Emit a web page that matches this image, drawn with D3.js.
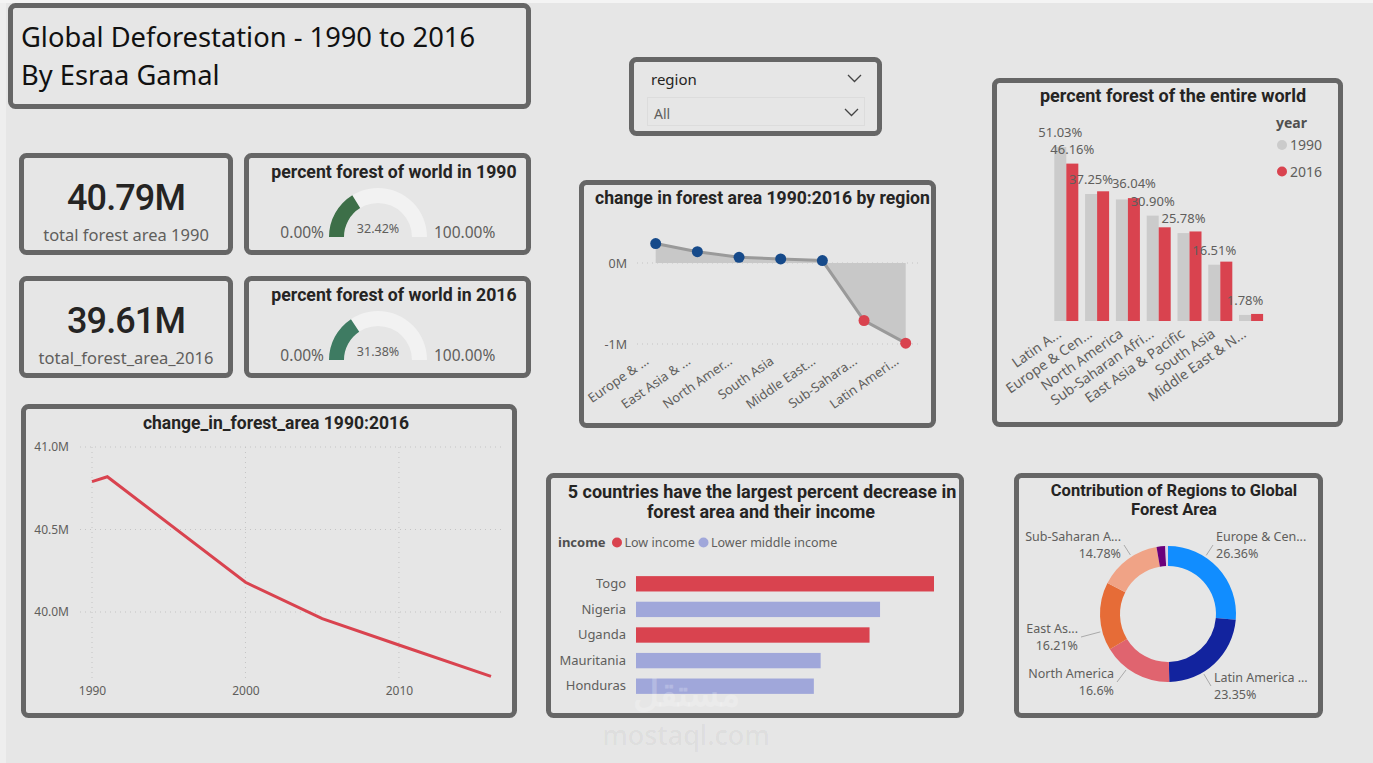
<!DOCTYPE html>
<html>
<head>
<meta charset="utf-8">
<script src="https://cdn.jsdelivr.net/npm/d3@7"></script>
<style>
  body { margin: 0; background: #e6e6e6; }
  svg { display: block; }
  text { font-family: "Noto Sans", sans-serif; }
  .ttl { font-family: Roboto, sans-serif; font-weight: 700; fill: #252423; }
  .lbl { fill: #605e5c; }
</style>
</head>
<body>
<script>
// ---- data ----
var kpiTotals = [40.79, 39.61];
var kpiLabels = ["total forest area 1990", "total_forest_area_2016"];
var gaugeYears = ["1990", "2016"];
var gaugeValues = [32.42, 31.38];

var lineYears = [1990, 1991, 2000, 2005, 2010, 2016];
var lineTotals = [40.79, 40.82, 40.18, 39.96, 39.80, 39.61];

var changeRegions = ["Europe & ...", "East Asia & ...", "North Amer...", "South Asia", "Middle East...", "Sub-Sahara...", "Latin Ameri..."];
var changeValues = [0.24, 0.14, 0.07, 0.05, 0.03, -0.71, -0.99];

var worldRegions = ["Latin A...", "Europe & Cen...", "North America", "Sub-Saharan Afri...", "East Asia & Pacific", "South Asia", "Middle East & N..."];
var pct1990 = [51.03, 37.25, 35.65, 30.90, 25.78, 16.51, 1.78];
var pct2016 = [46.16, 38.04, 36.04, 27.48, 26.26, 17.41, 2.07];

var countries = ["Togo", "Nigeria", "Uganda", "Mauritania", "Honduras"];
var countryDecrease = [75.45, 61.79, 59.13, 46.75, 45.03];
var countryIncome = ["Low income", "Lower middle income", "Low income", "Lower middle income", "Lower middle income"];
var incomeLevels = ["Low income", "Lower middle income"];

var donutRegions = ["Europe & Cen...", "Latin America ...", "North America", "East As...", "Sub-Saharan A...", "South Asia", "Middle East & N..."];
var donutShares = [26.36, 23.35, 16.6, 16.21, 14.78, 2.07, 0.63];

// ---- page ----
var W = 1373, H = 763;
var svg = d3.select("body").append("svg").attr("width", W).attr("height", H);
svg.append("rect").attr("width", W).attr("height", H).attr("fill", "#e6e6e6");
svg.append("rect").attr("width", 6).attr("height", H).attr("fill", "#eeeeee");
svg.append("rect").attr("width", W).attr("height", 3).attr("fill", "#f4f4f4");

function card(x0, y0, x1, y1) {
  svg.append("rect")
    .attr("x", x0 + 2.5).attr("y", y0 + 2.5)
    .attr("width", x1 - x0 - 5).attr("height", y1 - y0 - 5)
    .attr("rx", 5).attr("fill", "none")
    .attr("stroke", "#666666").attr("stroke-width", 5);
}
function title(x, y, txt, size, anchor) {
  return svg.append("text").attr("class", "ttl").attr("x", x).attr("y", y)
    .attr("font-size", size).attr("text-anchor", anchor || "middle").text(txt);
}

// ---- header ----
svg.append("text").attr("x", 21).attr("y", 47).attr("font-size", 27.3).attr("fill", "#111").text("Global Deforestation - 1990 to 2016");
svg.append("text").attr("x", 21).attr("y", 85).attr("font-size", 27.3).attr("fill", "#111").text("By Esraa Gamal");
card(8, 3, 531, 109);

// ---- KPI cards and gauges ----
var rowTop = [153, 276];
var gaugeColors = d3.scaleOrdinal().domain(gaugeYears).range(["#3d6f48", "#3e7b62"]);
var gaugeAngle = d3.scaleLinear().domain([0, 100]).range([-Math.PI / 2, Math.PI / 2]);
var gaugeArc = d3.arc().innerRadius(34).outerRadius(49);

rowTop.forEach(function (t, i) {
  title(126, t + 57, d3.format(".2f")(kpiTotals[i]) + "M", 36)
    .style("font-weight", 500).style("letter-spacing", "-0.9px");
  svg.append("text").attr("class", "lbl").attr("x", 126).attr("y", t + 88)
    .attr("font-size", 16.5).attr("text-anchor", "middle").text(kpiLabels[i]);
  card(19, t, 233, t + 102);

  title(394, t + 25, "percent forest of world in " + gaugeYears[i], 17.7);
  var g = svg.append("g").attr("transform", "translate(378," + (t + 84) + ")");
  g.append("path").attr("d", gaugeArc({startAngle: gaugeAngle(0), endAngle: gaugeAngle(100)})).attr("fill", "#f2f2f2");
  g.append("path").attr("d", gaugeArc({startAngle: gaugeAngle(0), endAngle: gaugeAngle(gaugeValues[i])})).attr("fill", gaugeColors(gaugeYears[i]));
  g.append("text").attr("class", "lbl").attr("y", -4).attr("text-anchor", "middle").attr("font-size", 12.5)
    .text(d3.format(".2f")(gaugeValues[i]) + "%");
  g.append("text").attr("class", "lbl").attr("x", -54).attr("y", 1).attr("text-anchor", "end").attr("font-size", 15.5).text("0.00%");
  g.append("text").attr("class", "lbl").attr("x", 56).attr("y", 1).attr("font-size", 15.5).text("100.00%");
  card(244, t, 531, t + 102);
});

// ---- line chart ----
(function () {
  var x = d3.scaleLinear().domain([1990, 2016]).range([92, 491]);
  var y = d3.scaleLinear().domain([40.0, 41.0]).range([612, 447]);
  var g = svg.append("g");
  g.selectAll(".hg").data([40.0, 40.5, 41.0]).enter().append("line")
    .attr("x1", 80).attr("x2", 502).attr("y1", y).attr("y2", y)
    .attr("stroke", "#c4c4c4").attr("stroke-dasharray", "1,4");
  g.selectAll(".vg").data([1990, 2000, 2010]).enter().append("line")
    .attr("x1", x).attr("x2", x).attr("y1", 447).attr("y2", 680)
    .attr("stroke", "#c4c4c4").attr("stroke-dasharray", "1,4");

  var ya = g.append("g").attr("transform", "translate(72,0)")
    .call(d3.axisLeft(y).tickValues([40.0, 40.5, 41.0]).tickSize(0).tickPadding(3)
      .tickFormat(function (d) { return d.toFixed(1) + "M"; }));
  var xa = g.append("g").attr("transform", "translate(0,684)")
    .call(d3.axisBottom(x).tickValues([1990, 2000, 2010]).tickSize(0).tickPadding(2).tickFormat(d3.format("d")));
  [ya, xa].forEach(function (a) {
    a.select(".domain").remove();
    a.selectAll("text").attr("fill", "#605e5c").attr("font-size", 12).attr("font-family", "Noto Sans");
  });

  g.append("path").datum(lineYears)
    .attr("d", d3.line().x(function (d) { return x(d); }).y(function (d, i) { return y(lineTotals[i]); }))
    .attr("fill", "none").attr("stroke", "#d9434f").attr("stroke-width", 3);

  title(276, 429, "change_in_forest_area 1990:2016", 17.5);
  card(21, 404, 517, 718);
})();

// ---- slicer ----
(function () {
  svg.append("rect").attr("x", 647.5).attr("y", 97.5).attr("width", 217).attr("height", 28)
    .attr("fill", "none").attr("stroke", "#dcdcdc");
  svg.append("text").attr("x", 651).attr("y", 85).attr("font-size", 15).attr("fill", "#252423").text("region");
  svg.append("text").attr("x", 654).attr("y", 119).attr("font-size", 14).attr("fill", "#605e5c").text("All");
  var chev = d3.line();
  svg.append("path").attr("d", chev([[848, 75], [854.5, 81.5], [861, 75]])).attr("fill", "none").attr("stroke", "#444").attr("stroke-width", 1.3);
  svg.append("path").attr("d", chev([[845, 109], [851.5, 115.5], [858, 109]])).attr("fill", "none").attr("stroke", "#444").attr("stroke-width", 1.3);
  card(629, 57, 882, 136);
})();

// ---- change by region ----
(function () {
  var x = d3.scalePoint().domain(changeRegions).range([655.7, 905.7]);
  var y = d3.scaleLinear().domain([-1, 0]).range([344, 263]);
  var g = svg.append("g");
  g.selectAll(".hg").data([0, -1]).enter().append("line")
    .attr("x1", 637).attr("x2", 921).attr("y1", y).attr("y2", y)
    .attr("stroke", "#c4c4c4").attr("stroke-dasharray", "1,4");
  var ya = g.append("g").attr("transform", "translate(630,0)")
    .call(d3.axisLeft(y).tickValues([0, -1]).tickSize(0).tickPadding(3)
      .tickFormat(function (d) { return (d < 0 ? "-" : "") + Math.abs(d) + "M"; }));
  ya.select(".domain").remove();
  ya.selectAll("text").attr("fill", "#605e5c").attr("font-size", 12.5).attr("font-family", "Noto Sans");

  g.append("path").datum(changeRegions)
    .attr("d", d3.area().x(function (d) { return x(d); }).y0(y(0)).y1(function (d, i) { return y(changeValues[i]); }))
    .attr("fill", "#c8c8c8");
  g.append("path").datum(changeRegions)
    .attr("d", d3.line().x(function (d) { return x(d); }).y(function (d, i) { return y(changeValues[i]); }))
    .attr("fill", "none").attr("stroke", "#9a9a9a").attr("stroke-width", 3);
  g.selectAll(".pt").data(changeRegions).enter().append("circle")
    .attr("cx", function (d) { return x(d); }).attr("cy", function (d, i) { return y(changeValues[i]); })
    .attr("r", 5.5).attr("fill", function (d, i) { return changeValues[i] >= 0 ? "#164a8a" : "#d9434f"; });
  g.selectAll(".xl").data(changeRegions).enter().append("text")
    .attr("transform", function (d) { return "translate(" + (x(d) - 6) + ",363) rotate(-35)"; })
    .attr("text-anchor", "end").attr("class", "lbl").attr("font-size", 13).text(function (d) { return d; });

  title(595, 204, "change in forest area 1990:2016 by region", 17.6, "start");
  card(579, 180, 936, 428);
})();

// ---- percent forest of the entire world ----
(function () {
  var years = ["1990", "2016"];
  var series = [pct1990, pct2016];
  var color = d3.scaleOrdinal().domain(years).range(["#cbcbcb", "#d9434f"]);
  var x0 = d3.scaleBand().domain(worldRegions).range([1054.3, 1263.1]).paddingInner(0.22);
  var x1 = d3.scaleBand().domain(years).range([0, x0.bandwidth()]);
  var y = d3.scaleLinear().domain([0, d3.max(pct1990)]).range([321, 147]);
  var g = svg.append("g");
  years.forEach(function (yr, s) {
    g.selectAll(".b" + yr).data(worldRegions).enter().append("rect")
      .attr("x", function (d) { return x0(d) + x1(yr); })
      .attr("y", function (d, i) { return y(series[s][i]); })
      .attr("width", x1.bandwidth())
      .attr("height", function (d, i) { return y(0) - y(series[s][i]); })
      .attr("fill", color(yr));
  });
  // data labels; a label that collides with an earlier one is hidden, as in the report
  var drawn = [];
  worldRegions.forEach(function (r, i) {
    years.forEach(function (yr, s) {
      var base = y(series[s][i]) - 10;
      var t = g.append("text").attr("class", "lbl").attr("font-size", 13).attr("text-anchor", "middle")
        .attr("x", x0(r) + x1(yr) + x1.bandwidth() / 2).attr("y", base)
        .text(d3.format(".2f")(series[s][i]) + "%");
      var bb = t.node().getBBox();
      var b = {x: bb.x + 1, y: base - 13, width: bb.width - 2, height: 13};
      var hit = drawn.some(function (o) {
        return b.x < o.x + o.width && o.x < b.x + b.width && b.y < o.y + o.height && o.y < b.y + b.height;
      });
      if (hit) t.remove(); else drawn.push(b);
    });
  });
  g.selectAll(".xl").data(worldRegions).enter().append("text")
    .attr("transform", function (d) { return "translate(" + (x0(d) + x0.bandwidth() / 2 - 4) + ",336) rotate(-35)"; })
    .attr("text-anchor", "end").attr("class", "lbl").attr("font-size", 14).text(function (d) { return d; });

  g.append("text").attr("x", 1276).attr("y", 128).attr("font-size", 14).attr("font-family", "Roboto")
    .attr("font-weight", 700).attr("fill", "#505050").text("year");
  years.forEach(function (yr, s) {
    g.append("circle").attr("cx", 1282).attr("cy", 145 + s * 26.5).attr("r", 5).attr("fill", color(yr));
    g.append("text").attr("class", "lbl").attr("x", 1290).attr("y", 150 + s * 26.5).attr("font-size", 14).text(yr);
  });

  title(1173, 102, "percent forest of the entire world", 18);
  card(992, 78, 1343, 427);
})();

// ---- five countries ----
(function () {
  var color = d3.scaleOrdinal().domain(incomeLevels).range(["#d9434f", "#a0a7da"]);
  var y = d3.scaleBand().domain(countries).range([571, 699]).paddingInner(0.4).paddingOuter(0.2);
  var x = d3.scaleLinear().domain([0, d3.max(countryDecrease)]).range([636, 934]);
  var g = svg.append("g");
  g.selectAll(".bar").data(countries).enter().append("rect")
    .attr("x", x(0)).attr("y", function (d) { return y(d); })
    .attr("width", function (d, i) { return x(countryDecrease[i]) - x(0); })
    .attr("height", y.bandwidth())
    .attr("fill", function (d, i) { return color(countryIncome[i]); });
  var ya = g.append("g").attr("transform", "translate(630,0)")
    .call(d3.axisLeft(y).tickSize(0).tickPadding(4));
  ya.select(".domain").remove();
  ya.selectAll("text").attr("fill", "#605e5c").attr("font-size", 13).attr("font-family", "Noto Sans");

  g.append("text").attr("x", 558).attr("y", 547).attr("font-size", 13).attr("font-family", "Roboto")
    .attr("font-weight", 700).attr("fill", "#505050").text("income");
  var lx = [617, 703.5];
  incomeLevels.forEach(function (lv, i) {
    g.append("circle").attr("cx", lx[i]).attr("cy", 542.5).attr("r", 5).attr("fill", color(lv));
    g.append("text").attr("class", "lbl").attr("x", lx[i] + 7.5).attr("y", 547).attr("font-size", 12.5).text(lv);
  });

  title(762, 498, "5 countries have the largest percent decrease in", 18);
  title(761, 518, "forest area and their income", 18);
  card(546, 473, 964, 718);
})();

// ---- donut ----
(function () {
  var cx = 1168, cy = 614, ro = 68, ri = 48;
  var color = d3.scaleOrdinal().domain(donutRegions)
    .range(["#118dff", "#12239e", "#e0646f", "#e66c37", "#f0a386", "#6b007b", "#dcd3e6"]);
  var pie = d3.pie().sort(null).value(function (d) { return d; });
  var arcs = pie(donutShares);
  var arc = d3.arc().innerRadius(ri).outerRadius(ro);
  var g = svg.append("g").attr("transform", "translate(" + cx + "," + cy + ")");
  g.selectAll("path").data(arcs).enter().append("path")
    .attr("d", arc).attr("fill", function (d, i) { return color(donutRegions[i]); });

  // label placement (first five slices get labels)
  var labelAt = [[48, -73, "start"], [46, 68, "start"], [-54, 64, "end"], [-90, 19, "end"], [-47, -73, "end"]];
  labelAt.forEach(function (p, i) {
    var lx = p[0], ly = p[1], side = p[2] === "start" ? -1 : 1;
    var ex = lx + side * 3, ey = ly + 4;
    var len = Math.sqrt(ex * ex + ey * ey);
    var sx = ex / len * (ro + 2), sy = ey / len * (ro + 2);
    g.append("polyline").attr("points", [[sx, sy], [ex, ey]].join(" "))
      .attr("fill", "none").attr("stroke", "#aaaaaa").attr("stroke-width", 1);
    g.append("text").attr("class", "lbl").attr("x", lx).attr("y", ly).attr("font-size", 12.5)
      .attr("text-anchor", p[2]).text(donutRegions[i]);
    g.append("text").attr("class", "lbl").attr("x", lx).attr("y", ly + 17).attr("font-size", 12.5)
      .attr("text-anchor", p[2]).text(donutShares[i] + "%");
  });

  title(1174, 496, "Contribution of Regions to Global", 16.5);
  title(1174, 515, "Forest Area", 16.5);
  card(1014, 473, 1323, 718);
})();

// ---- watermark ----
svg.append("text").attr("x", 686).attr("y", 706).attr("text-anchor", "middle")
  .attr("font-family", "DejaVu Sans").attr("font-weight", 700).attr("font-size", 36)
  .attr("fill", "#ffffff").attr("fill-opacity", 0.22).text("مستقل");
svg.append("text").attr("x", 686).attr("y", 745).attr("text-anchor", "middle")
  .attr("font-family", "Roboto").attr("font-weight", 500).attr("font-size", 27)
  .attr("fill", "#000").attr("fill-opacity", 0.05).text("mostaql.com");
</script>
</body>
</html>
